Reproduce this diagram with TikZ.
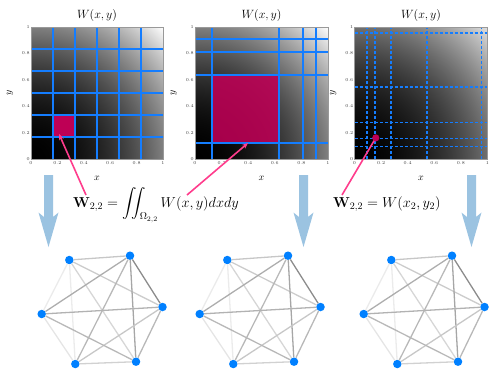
\documentclass[tikz,border=0pt]{standalone}
\usepackage{amsmath}
\usetikzlibrary{arrows.meta}
\definecolor{gridblue}{RGB}{20,125,255}
\definecolor{nodeblue}{RGB}{0,128,255}
\definecolor{cellred}{RGB}{190,0,85}
\definecolor{hotpink}{RGB}{255,60,140}
\definecolor{bigblue}{RGB}{155,195,225}
% TikZ maps the path's bounding box onto 25bp..75bp of the shading
\pgfdeclarefunctionalshading{wone}{\pgfpointorigin}{\pgfpoint{100bp}{100bp}}{}{25 sub 50 div dup mul exch 25 sub 50 div dup mul add 0.5 mul dup dup}
\pgfdeclarefunctionalshading{wthree}{\pgfpointorigin}{\pgfpoint{100bp}{100bp}}{}{25 sub 50 div dup mul exch 25 sub 50 div dup mul add 0.44 mul dup dup}
\tikzset{
  ticklab/.style={font=\fontsize{4.5}{5}\selectfont, text=black!75, inner sep=1pt},
  ptitle/.style={font=\fontsize{12}{14}\selectfont, inner sep=0pt},
  axlab/.style={font=\fontsize{10}{12}\selectfont, inner sep=0pt},
  gline/.style={draw=gridblue, line width=1.7pt},
  gthick/.style={draw=gridblue, line width=2pt},
  dline/.style={draw=gridblue, line width=1.5pt, dash pattern=on 3pt off 2pt},
  pinkarrow/.style={draw=hotpink, line width=1.6pt, -{Stealth[length=6pt,width=5pt]}},
  pinkline/.style={draw=hotpink, line width=1.6pt},
  vtx/.style={circle, fill=nodeblue, minimum size=8.5pt, inner sep=0pt},
  edge/.style={line width=1.3pt},
  formula/.style={font=\fontsize{14.3}{16}\selectfont, inner sep=0pt, anchor=base west},
}
\newcommand\axesframe[1]{%
  \foreach \t/\l in {0/0,0.2/0.2,0.4/0.4,0.6/0.6,0.8/0.8,1/1}{
    \node[ticklab, anchor=east] at (0,\t) {\l};
    \node[ticklab, anchor=north] at (\t,-0.01) {\l};
  }
  \node[ptitle] (#1title) at (0.5,1.09) {$W(x,y)$};
  \node[axlab] (#1xl) at (0.5,-0.15) {$x$};
  \node[axlab, rotate=90] (#1yl) at (-0.16,0.5) {$y$};
}
\newcommand\mygraph[2]{%
\begin{scope}[shift={(#2,0)}]
  \node[vtx] (#1a) at (69.3,260) {};
  \node[vtx] (#1b) at (130,255.7) {};
  \node[vtx] (#1c) at (162.5,307) {};
  \node[vtx] (#1d) at (136,361.7) {};
  \node[vtx] (#1e) at (75.3,364) {};
  \node[vtx] (#1f) at (41.7,314) {};
  \draw[edge, draw=black!22] (#1a) -- (#1b);
  \draw[edge, draw=black!20] (#1a) -- (#1c);
  \draw[edge, draw=black!16] (#1a) -- (#1d);
  \draw[edge, draw=black!8] (#1a) -- (#1e);
  \draw[edge, draw=black!8] (#1a) -- (#1f);
  \draw[edge, draw=black!45] (#1b) -- (#1c);
  \draw[edge, draw=black!35] (#1b) -- (#1d);
  \draw[edge, draw=black!28] (#1b) -- (#1e);
  \draw[edge, draw=black!32] (#1b) -- (#1f);
  \draw[edge, draw=black!28] (#1c) -- (#1d);
  \draw[edge, draw=black!22] (#1c) -- (#1e);
  \draw[edge, draw=black!30] (#1c) -- (#1f);
  \draw[edge, draw=black!18] (#1d) -- (#1e);
  \draw[edge, draw=black!28] (#1d) -- (#1f);
  \draw[edge, draw=black!10] (#1e) -- (#1f);
\end{scope}}
\newcommand\bigdown[1]{%
  \fill[bigblue] (#1-4.5,175) -- (#1+4.5,175) -- (#1+4.5,217) -- (#1+10,212.5)
    -- (#1,247) -- (#1-10,212.5) -- (#1-4.5,217) -- cycle;}
\begin{document}
\begin{tikzpicture}[x=1pt,y=-1pt]
\useasboundingbox (0,0) rectangle (493,370);
% ---------- panel 1 ----------
\begin{scope}[shift={(31,159)}, x=132pt, y=132pt]
  \shade[shading=wone] (0,0) rectangle (1,1);
  \fill[cellred] (1/6,1/6) rectangle (2/6,2/6);
  \foreach \k in {1,...,5}{
    \draw[gline] (\k/6,0) -- (\k/6,1);
    \draw[gline] (0,\k/6) -- (1,\k/6);
  }
  \draw[black!40, line width=0.3pt] (0,0) rectangle (1,1);
  \axesframe{p1}
\end{scope}
% ---------- panel 2 ----------
\begin{scope}[shift={(195,159)}, x=133pt, y=132pt]
  \shade[shading=wone] (0,0) rectangle (1,1);
  \fill[cellred, fill opacity=0.88] (0.125,0.125) rectangle (0.635,0.635);
  \draw[gthick] (0.125,0) -- (0.125,1);
  \draw[gthick] (0.635,0) -- (0.635,1);
  \draw[gthick] (0.81,0) -- (0.81,1);
  \draw[gthick] (0.91,0) -- (0.91,1);
  \draw[gthick] (0,0.125) -- (1,0.125);
  \draw[gthick] (0,0.635) -- (1,0.635);
  \draw[gthick] (0,0.81) -- (1,0.81);
  \draw[gthick] (0,0.91) -- (1,0.91);
  \draw[black!40, line width=0.3pt] (0,0) rectangle (1,1);
  \axesframe{p2}
\end{scope}
% ---------- panel 3 ----------
\begin{scope}[shift={(354.5,159)}, x=133pt, y=132pt]
  \shade[shading=wthree] (0,0) rectangle (1,1);
  \foreach \k in {0.095,0.155,0.275,0.545,0.955}{
    \draw[dline] (\k,0) -- (\k,1);
    \draw[dline] (0,\k) -- (1,\k);
  }
  \draw[black!40, line width=0.3pt] (0,0) rectangle (1,1);
  \axesframe{p3}
  \coordinate (dot3) at (0.16,0.16);
\end{scope}
% ---------- big arrows ----------
\bigdown{48.5}
\bigdown{303.5}
\bigdown{471.5}
% ---------- formulas ----------
\node[formula] (f1) at (73,207) {$\mathbf{W}_{2,2} = \displaystyle\iint_{\Omega_{2,2}} W(x,y)dxdy$};
\node[formula] (f2) at (333,207) {$\mathbf{W}_{2,2} = W(x_2,y_2)$};
% ---------- pink arrows ----------
\coordinate (a1s) at (86,195);
\coordinate (a1e) at (59,134);
\coordinate (a2s) at (187,195);
\coordinate (a2e) at (248,143);
\coordinate (a3s) at (342,195);
\draw[pinkarrow] (a1s) -- (a1e);
\draw[pinkarrow] (a2s) -- (a2e);
\draw[pinkline] (a3s) -- (dot3);
\fill[cellred] (dot3) circle (3.6pt);
% ---------- graphs ----------
\mygraph{ga}{0}
\mygraph{gb}{158}
\mygraph{gc}{322}
\end{tikzpicture}
\end{document}
